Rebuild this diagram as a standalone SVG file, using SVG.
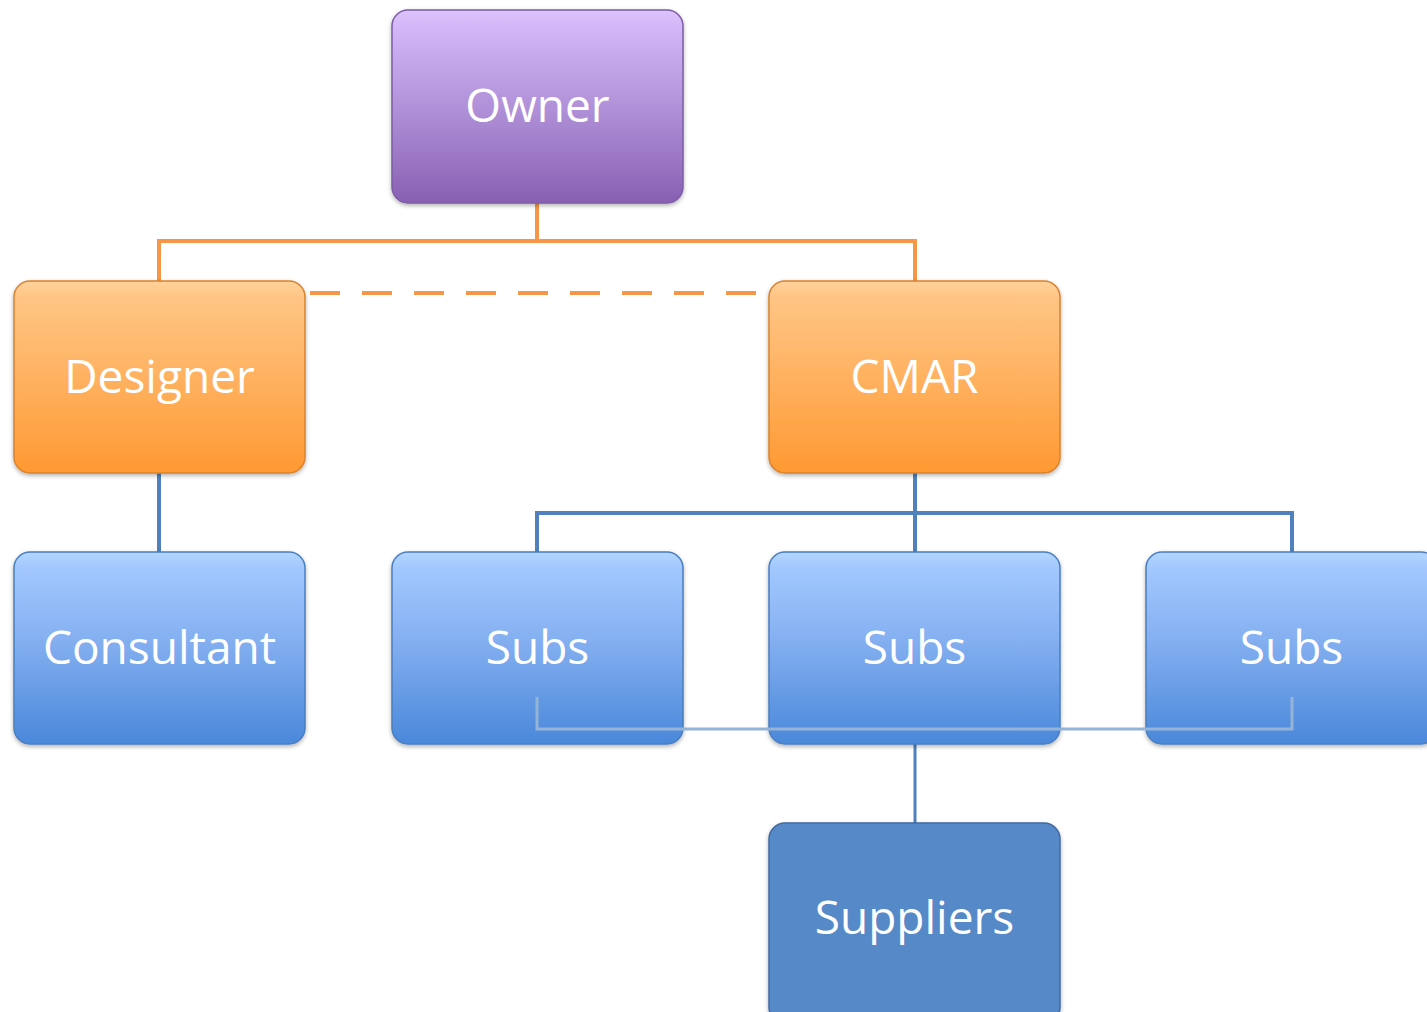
<svg xmlns="http://www.w3.org/2000/svg" width="1427" height="1012" viewBox="0 0 1427 1012">
<defs>
<linearGradient id="gPurple" x1="0" y1="0" x2="0" y2="1">
<stop offset="0" stop-color="#DCC4FB"/>
<stop offset="0.08" stop-color="#D3B7F8"/>
<stop offset="0.45" stop-color="#B596DD"/>
<stop offset="1" stop-color="#8860B2"/>
</linearGradient>
<linearGradient id="gOrange" x1="0" y1="0" x2="0" y2="1">
<stop offset="0" stop-color="#FFD29B"/>
<stop offset="0.08" stop-color="#FFC585"/>
<stop offset="0.45" stop-color="#FFB465"/>
<stop offset="1" stop-color="#FF9932"/>
</linearGradient>
<linearGradient id="gBlue" x1="0" y1="0" x2="0" y2="1">
<stop offset="0" stop-color="#B4D6FF"/>
<stop offset="0.08" stop-color="#A2C8FE"/>
<stop offset="0.45" stop-color="#85B0F1"/>
<stop offset="1" stop-color="#4A88DA"/>
</linearGradient>
<filter id="shadow" x="-5%" y="-5%" width="110%" height="115%">
<feDropShadow dx="0" dy="2" stdDeviation="2" flood-color="#000" flood-opacity="0.3"/>
</filter>
</defs>
<style>
.box{filter:url(#shadow);stroke-width:1.5}
.purple{fill:url(#gPurple);stroke:#7E5CA6}
.orange{fill:url(#gOrange);stroke:#D9822E}
.blue{fill:url(#gBlue);stroke:#4A7EC0}
.dark{fill:#5789C8;stroke:#41699E}
.lbl{font-family:"Open Sans","Noto Sans",sans-serif;font-size:46px;fill:#FFFFFF;text-anchor:middle}
.conO{fill:none;stroke:#F79646;stroke-width:4}
.conB{fill:none;stroke:#4F81BD;stroke-width:4}
.conL{fill:none;stroke:#95B3D7;stroke-width:3}
.conS{fill:none;stroke:#4F81BD;stroke-width:3}
</style>
<rect width="1427" height="1012" fill="#FFFFFF"/>
<g id="connectors-under">
<path class="conO" d="M159 281 V241 H915 V281 M537 203 V241"/>
<path class="conO" d="M310 293 H756" stroke-dasharray="30 22"/>
<path class="conB" d="M159 473 V552"/>
<path class="conB" d="M915 473 V552 M537 552 V513 H1292 V552"/>
<path class="conS" d="M915 744 V823"/>
</g>
<g id="owner"><rect class="box purple" x="392" y="10" width="291" height="193" rx="16"/><text class="lbl" x="537.5" y="122">Owner</text></g>
<g id="designer"><rect class="box orange" x="14" y="281" width="291" height="192" rx="16"/><text class="lbl" x="159.5" y="393">Designer</text></g>
<g id="cmar"><rect class="box orange" x="769" y="281" width="291" height="192" rx="16"/><text class="lbl" x="914.5" y="393">CMAR</text></g>
<g id="consultant"><rect class="box blue" x="14" y="552" width="291" height="192" rx="16"/><text class="lbl" x="159.5" y="664">Consultant</text></g>
<g id="subs1"><rect class="box blue" x="392" y="552" width="291" height="192" rx="16"/><text class="lbl" x="537.5" y="664">Subs</text></g>
<g id="subs2"><rect class="box blue" x="769" y="552" width="291" height="192" rx="16"/><text class="lbl" x="914.5" y="664">Subs</text></g>
<g id="subs3"><rect class="box blue" x="1146" y="552" width="291" height="192" rx="16"/><text class="lbl" x="1291.5" y="664">Subs</text></g>
<g id="suppliers"><rect class="box dark" x="769" y="823" width="291" height="200" rx="16"/><text class="lbl" x="914.5" y="934">Suppliers</text></g>
<g id="connectors-over">
<path class="conL" d="M537 697 V729 H1292 V697"/>
</g>
</svg>
